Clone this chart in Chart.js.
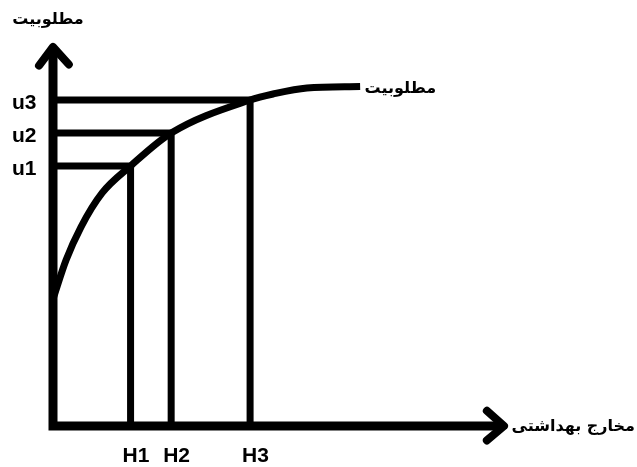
<!DOCTYPE html>
<html>
<head>
<meta charset="utf-8">
<script src="https://cdn.jsdelivr.net/npm/chart.js@4"></script>
<style>
    html, body { margin: 0; padding: 0; background: #FFFFFF; }
    #wrap { width: 637px; height: 467px; }
</style>
</head>
<body>
<div id="wrap"><canvas id="chart"></canvas></div>
<script>
// Utility curve, values on a 0–100 scale for both axes.
const curveX = [0, 2.9, 6.2, 10.9, 17.2, 26.2, 43.7, 48.8, 56.3, 68.1];
const curveY = [33.5, 43.8, 52.5, 61.5, 68.6, 77.3, 86.0, 87.6, 89.2, 89.6];

// Spending levels on the x axis and the utility they give.
const hLabels = ['H1', 'H2', 'H3'];
const hValues = [17.2, 26.2, 43.7];
const uLabels = ['u1', 'u2', 'u3'];
const uValues = [68.6, 77.3, 86.0];

const yTitle = 'مطلوبیت';
const curveTitle = 'مطلوبیت';
const xTitle = 'مخارج بهداشتی';

const INK = '#000000';
const ARABIC_FONT = "bold 16px 'DejaVu Sans', sans-serif";
const LATIN_FONT = "bold 21px 'Liberation Sans', Arial, sans-serif";

function line(points, width, extra) {
    return {
        data: points,
        showLine: true,
        borderColor: INK,
        borderWidth: width,
        pointRadius: 0,
        pointHoverRadius: 0,
        clip: false,
        borderJoinStyle: 'miter',
        borderCapStyle: 'butt',
        ...extra,
    };
}

const guides = hValues.map((h, i) => line([
    { x: 0, y: uValues[i] },
    { x: h, y: uValues[i] },
    { x: h, y: 0 },
], 7));

const datasets = [
    // The two axes as one L so the corner is filled.
    line([{ x: 0, y: 100 }, { x: 0, y: 0 }, { x: 100, y: 0 }], 9),
    // Arrow heads.
    line([{ x: -3.1, y: 95.1 }, { x: 0, y: 100 }, { x: 3.5, y: 95.4 }], 8,
        { borderJoinStyle: 'round', borderCapStyle: 'round' }),
    line([{ x: 96.2, y: 4.0 }, { x: 100, y: 0 }, { x: 96.2, y: -3.8 }], 8,
        { borderJoinStyle: 'round', borderCapStyle: 'round' }),
    ...guides,
    line(curveX.map((x, i) => ({ x, y: curveY[i] })), 7,
        { cubicInterpolationMode: 'monotone', borderJoinStyle: 'round' }),
];

// Axis names and the u/H markers are plain canvas text tied to the scales.
const labelPlugin = {
    id: 'labels',
    afterDatasetsDraw(chart) {
        const { ctx, scales: { x, y } } = chart;
        ctx.save();
        ctx.fillStyle = INK;

        ctx.font = LATIN_FONT;
        ctx.textAlign = 'left';
        ctx.textBaseline = 'middle';
        uLabels.forEach((label, i) => {
            ctx.fillText(label, 12, y.getPixelForValue(uValues[i]) + 3);
        });
        ctx.textBaseline = 'alphabetic';
        hLabels.forEach((label, i) => {
            ctx.fillText(label, x.getPixelForValue(hValues[i]) - 8, 462);
        });

        ctx.font = ARABIC_FONT;
        ctx.direction = 'rtl';
        ctx.textBaseline = 'middle';
        ctx.textAlign = 'center';
        ctx.fillText(yTitle, x.getPixelForValue(0) - 5, 20);
        ctx.textAlign = 'right';
        const endX = x.getPixelForValue(curveX[curveX.length - 1]);
        ctx.fillText(curveTitle, endX + 76, y.getPixelForValue(curveY[curveY.length - 1]) + 2);
        ctx.fillText(xTitle, x.getPixelForValue(100) + 131, y.getPixelForValue(0) + 1);
        ctx.restore();
    },
};

new Chart(document.getElementById('chart'), {
    type: 'scatter',
    data: { datasets },
    options: {
        responsive: true,
        maintainAspectRatio: false,
        animation: false,
        events: [],
        // Padding fixes the axis origin and the two arrow tips on the canvas.
        layout: { padding: { left: 53, right: 133, top: 47, bottom: 41 } },
        scales: {
            x: { type: 'linear', min: 0, max: 100, display: false },
            y: { type: 'linear', min: 0, max: 100, display: false },
        },
        plugins: {
            legend: { display: false },
            tooltip: { enabled: false },
        },
    },
    plugins: [labelPlugin],
});
</script>
</body>
</html>
